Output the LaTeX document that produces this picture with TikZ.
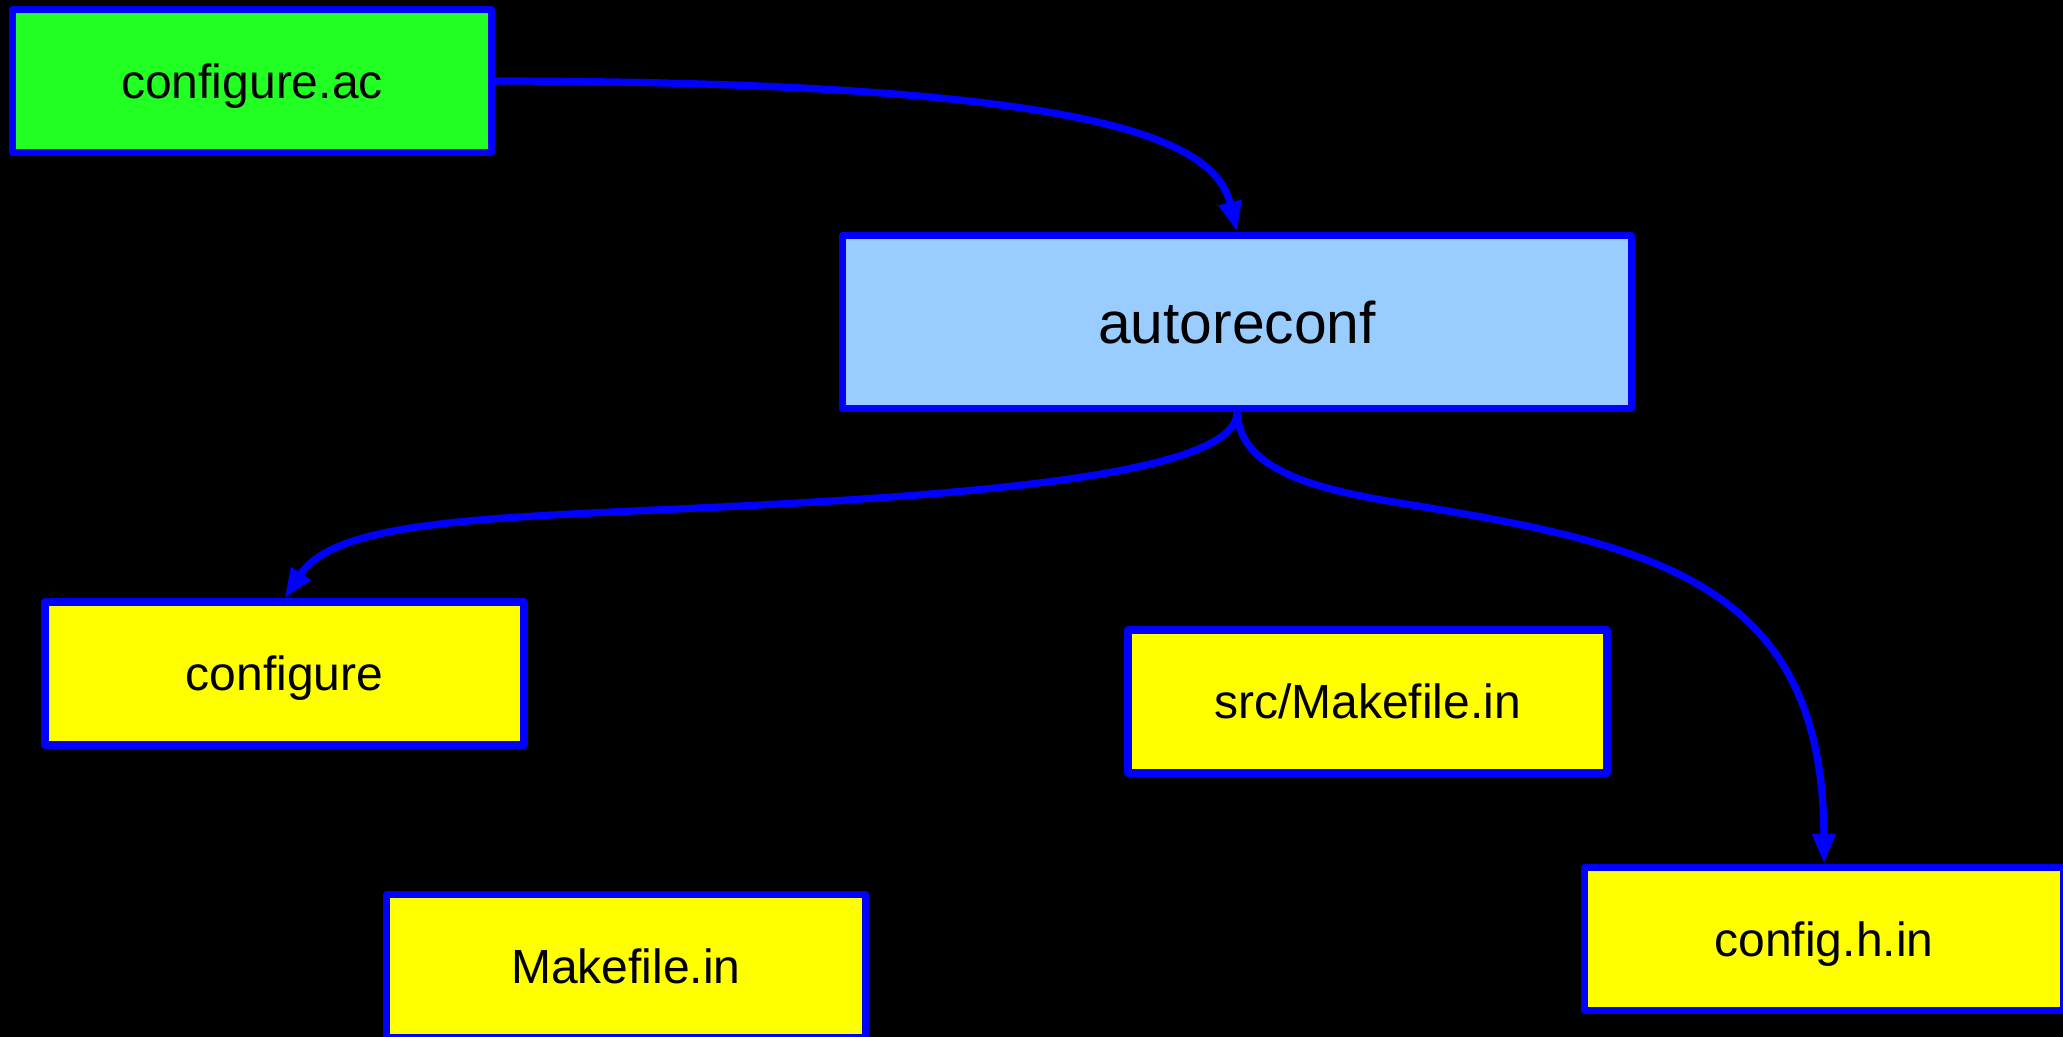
\documentclass[tikz,border=0pt]{standalone}
\usepackage{fontspec}
\setmainfont{Liberation Sans}
\usetikzlibrary{arrows.meta}
\definecolor{srcgreen}{RGB}{34,255,34}
\definecolor{toolblue}{RGB}{153,204,255}
\definecolor{genyellow}{RGB}{255,255,0}
\definecolor{edgeblue}{RGB}{0,0,255}
\begin{document}
\begin{tikzpicture}[x=0.5pt,y=-0.5pt,
  box/.style={draw=edgeblue, line width=3.6pt, line join=round, inner sep=0pt,
    minimum width=239.5pt, minimum height=71.5pt,
    font=\fontsize{24pt}{28pt}\selectfont, text=black,
    text height=17.3pt, text depth=0pt},
  source/.style={box, fill=srcgreen},
  generated/.style={box, fill=genyellow},
  tool/.style={box, fill=toolblue, minimum width=394.5pt, minimum height=86.75pt,
    font=\fontsize{29.4pt}{34pt}\selectfont, text height=21.2pt},
  flow/.style={draw=edgeblue, line width=3.6pt,
    -{Triangle[length=15pt, width=11pt]}}]

% canvas
\useasboundingbox (0,0) rectangle (2063,1037);
\fill[black] (0,0) rectangle (2063,1037);

% files and the tool
\node[source]    (cac) at (252,81)      {configure.ac};
\node[tool]      (ar)  at (1237,322)    {autoreconf};
\node[generated] (cfg) at (284.5,673.5) {configure};
\node[generated] (smk) at (1367.5,701.5){src/Makefile.in};
\node[generated] (mk)  at (626,966)     {Makefile.in};
\node[generated] (chi) at (1824,939)    {config.h.in};

% waypoints of the outgoing splines
\coordinate (wl) at (760,505);
\coordinate (wr) at (1400,503);

% connectors
\draw[flow] (cac.east) .. controls (1100,82) and (1215,140) .. (ar.north);
\draw[flow] (ar.south) .. controls (1237,470) and (1010,492) .. (wl)
                       .. controls (510,518) and (339,516) .. (cfg.north);
\draw[flow] (ar.south) .. controls (1240,465) and (1300,487) .. (wr)
                       .. controls (1650,544) and (1823,580) .. (chi.north);
\end{tikzpicture}
\end{document}
